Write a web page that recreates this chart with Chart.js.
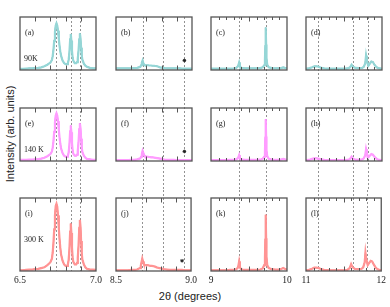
<!DOCTYPE html>
<html>
<head>
<meta charset="utf-8">
<script src="https://cdn.jsdelivr.net/npm/chart.js@4.4.1/dist/chart.umd.min.js"></script>
<style>
  body { margin: 0; background: #fff; }
  #wrap { position: relative; width: 390px; height: 307px; overflow: hidden; }
  #wrap canvas { position: absolute; }
  .ytitle { position: absolute; left: 10px; top: 134px; transform: translate(-50%, -50%) rotate(-90deg);
            font: 11px "Liberation Sans", Arial, sans-serif; white-space: nowrap; color: #222; }
  .xtitle { position: absolute; left: 190px; top: 296px; transform: translate(-50%, -50%);
            font: 11px "Liberation Sans", Arial, sans-serif; white-space: nowrap; color: #222; }
</style>
</head>
<body>
<div id="wrap">
  <div class="ytitle">Intensity (arb. units)</div>
  <div class="xtitle">2θ (degrees)</div>
</div>
<script>
// 2theta sampling per column
var theta1 = [6.50,6.52,6.54,6.56,6.58,6.60,6.62,6.64,6.66,6.68,6.69,6.70,6.71,6.715,6.72,6.725,6.73,6.735,6.74,6.745,6.75,6.755,6.76,6.765,6.77,6.78,6.79,6.80,6.81,6.815,6.82,6.825,6.83,6.834,6.838,6.842,6.846,6.85,6.86,6.87,6.875,6.88,6.885,6.89,6.894,6.898,6.902,6.906,6.91,6.92,6.93,6.94,6.96,6.98,7.00];
var theta2 = [8.50,8.52,8.54,8.56,8.58,8.60,8.62,8.64,8.65,8.66,8.665,8.67,8.675,8.68,8.685,8.69,8.70,8.71,8.72,8.73,8.74,8.75,8.76,8.77,8.78,8.79,8.80,8.81,8.82,8.84,8.86,8.88,8.90,8.92,8.94,8.96,8.98,9.00];
var theta3 = [9.00,9.05,9.10,9.15,9.20,9.25,9.30,9.33,9.35,9.36,9.37,9.38,9.39,9.41,9.45,9.50,9.55,9.60,9.65,9.68,9.70,9.71,9.715,9.72,9.725,9.73,9.74,9.76,9.80,9.85,9.90,9.93,9.95,9.97,10.00];
var theta4 = [11.00,11.04,11.08,11.11,11.14,11.17,11.20,11.24,11.30,11.40,11.50,11.55,11.58,11.60,11.62,11.65,11.70,11.74,11.76,11.78,11.79,11.80,11.82,11.84,11.86,11.88,11.90,11.93,11.96,12.00];

// 90 K
var i90a = [2,2,2.5,3,3,3.5,4,5,7,10,12,14,19,26,38,55,72,84,88,84,74,60,46,35,27,18,13,11,11,13,19,33,58,68,55,36,24,18,13,13,15,21,36,58,69,60,42,28,20,12,8,6,4,3,3];
var i90b = [3,3,3,3,3,3,3.5,4,5,6,9,14,18,13,10,9,9,9,8.5,8.5,8,8,7.5,7,6,5,4.5,4,3.5,3,3,3,3,3,2.5,2.5,2.5,2.5];
var i90c = [2.5,2.5,2.5,2.5,2.5,2.5,3,4,6,9,14,8,5,3.5,3,3,3,3,3.5,5,9,20,45,80,48,22,10,5,3.5,3,3,4,5,4,3];
var i90d = [2.5,3,5,7,7,6,4,3,2.5,2.5,2.5,3,5,10,6,4,3.5,4,6,13,27,18,8,12,16,15,10,5,3,2.5];
// 140 K
var i140e = [2,2,2,2.5,2.5,3,3.5,4.5,6,9,11,13,18,25,37,55,73,86,90,86,75,60,45,33,24,15,10,8,8,10,16,30,56,67,54,34,21,14,10,10,12,19,35,60,71,62,42,26,17,10,6,4,3,2,2];
var i140f = [1.5,1.5,1.5,1.5,1.5,2,2,3,4,5,8,13,19,15,11,9,8.5,8,7.5,7,7,6.5,6,5.5,5,4.5,4,3,2.5,2,2,2,1.5,1.5,1.5,1.5,1.5,1.5];
var i140g = [1.5,1.5,1.5,1.5,1.5,2,2,3,5,7,11,6,3.5,2.5,2,2,2,2,2.5,4,8,18,44,79,46,20,9,4,2.5,2,2,3,4,3,2];
var i140h = [1.5,2,4,5,5,4,3,2,1.5,1.5,1.5,2,4,8,4,2.5,2,3,5,11,22,15,7,10,13,12,8,4,2,1.5];
// 300 K
var i300i = [1,1,1.5,2,2,2.5,3,4,5,8,10,12,17,25,38,57,76,89,92,88,76,60,44,32,23,14,9,7,7,9,15,29,54,65,52,32,19,13,9,9,11,18,34,59,70,61,41,25,16,9,5,3,2,2,1.5];
var i300j = [1,1,1,1,1,1.5,1.5,2,3,4,7,12,17,13,10,8.5,8,8,7.5,7,7,6.5,6,5,4.5,4,3.5,3,2.5,2,1.5,1.5,1.5,1.5,1.5,1,1,1];
var i300k = [1,1,1,1,1,1.5,1.5,2.5,4,7,13,6,3,2,1.5,1.5,1.5,1.5,2,3.5,8,18,43,77,45,19,8,4,2.5,2,2,3,4,3,2];
var i300l = [1,1.5,3,4.5,4.5,4,2.5,1.5,1,1,1,1.5,4,9.5,5,3,2.5,3,5,12,25,17,8,11,14,13,9,4,2,1];

// asterisk markers in the second column (one per row)
var starX = [8.95, 8.95, 8.94];
var starY = [18, 18, 14];

// reference lines per column
var guides1 = [6.737, 6.833, 6.893];
var guides2 = [8.676, 8.81, 8.95];
var guides3 = [9.37, 9.72];
var guides4 = [11.16, 11.62, 11.81];

var xRanges = [[6.5, 7.0], [8.5, 9.0], [9, 10], [11, 12]];
var tickLabels = [['6.5', '7.0'], ['8.5', '9.0'], ['9', '10'], ['11', '12']];
var panelLetters = [['(a)', '(b)', '(c)', '(d)'], ['(e)', '(f)', '(g)', '(h)'], ['(i)', '(j)', '(k)', '(l)']];
var tempLabels = ['90K', '140 K', '300 K'];

var thetas = [theta1, theta2, theta3, theta4];
var guides = [guides1, guides2, guides3, guides4];
var rowsData = [[i90a, i90b, i90c, i90d], [i140e, i140f, i140g, i140h], [i300i, i300j, i300k, i300l]];

// layout
var cols = [
  { left: 0, w: 106, pl: 20, pr: 10 },
  { left: 106, w: 95, pl: 10, pr: 9 },
  { left: 201, w: 95, pl: 10, pr: 9 },
  { left: 296, w: 94, pl: 10, pr: 8 }
];
var rows = [
  { top: 0, h: 99, pt: 17, pb: 9 },
  { top: 99, h: 91, pt: 9, pb: 9 },
  { top: 190, h: 117, pt: 8, pb: 16 }
];
var colors = [
  { dark: '#23878a', light: '#95d6d6' },
  { dark: '#ee10ee', light: '#ff9cff' },
  { dark: '#f02020', light: '#ff9494' }
];

var panelDeco = {
  id: 'panelDeco',
  beforeDatasetsDraw: function (chart, args, o) {
    var ctx = chart.ctx, a = chart.chartArea, xs = chart.scales.x;
    ctx.save();
    ctx.strokeStyle = '#777';
    ctx.lineWidth = 0.8;
    ctx.setLineDash([2, 2]);
    o.guides.forEach(function (g) {
      var px = Math.round(xs.getPixelForValue(g)) + 0.5;
      ctx.beginPath();
      ctx.moveTo(px, o.row === 0 ? a.top : 0);
      ctx.lineTo(px, o.row === 2 ? a.bottom : chart.height);
      ctx.stroke();
    });
    ctx.restore();
  },
  afterDatasetsDraw: function (chart, args, o) {
    var ctx = chart.ctx, a = chart.chartArea, xs = chart.scales.x;
    ctx.save();
    ctx.strokeStyle = '#555';
    ctx.lineWidth = 1.3;
    ctx.strokeRect(a.left, a.top, a.right - a.left, a.bottom - a.top);
    // inward ticks top and bottom, every 0.1
    var n = Math.round((xs.max - xs.min) / 0.1);
    ctx.lineWidth = 1;
    for (var k = 1; k < n; k++) {
      var px = Math.round(xs.getPixelForValue(xs.min + k * 0.1)) + 0.5;
      var len = (n > 5 && k % 5 !== 0) ? 3 : 4.5;
      ctx.beginPath();
      ctx.moveTo(px, a.top); ctx.lineTo(px, a.top + len);
      ctx.moveTo(px, a.bottom); ctx.lineTo(px, a.bottom - len);
      ctx.stroke();
    }
    ctx.fillStyle = '#222';
    ctx.font = '8px "Liberation Serif", "Times New Roman", serif';
    ctx.textBaseline = 'middle';
    ctx.fillText(o.letter, a.left + 5, a.top + 16);
    if (o.temp) ctx.fillText(o.temp, a.left + 4, a.top + 42);
    ctx.restore();
  }
};

var wrap = document.getElementById('wrap');
rows.forEach(function (r, ri) {
  cols.forEach(function (c, ci) {
    var cv = document.createElement('canvas');
    cv.width = c.w; cv.height = r.h;
    cv.style.left = c.left + 'px'; cv.style.top = r.top + 'px';
    cv.style.width = c.w + 'px'; cv.style.height = r.h + 'px';
    wrap.appendChild(cv);

    var xs = thetas[ci], ys = rowsData[ri][ci];
    var pts = xs.map(function (x, i) { return { x: x, y: ys[i] }; });
    var datasets = [
      { data: pts, borderColor: colors[ri].light, borderWidth: 2.2, pointRadius: 0, tension: 0 },
      { data: pts, borderColor: colors[ri].dark, borderWidth: 1.1, pointRadius: 0, tension: 0 }
    ];
    if (ci === 1) {
      datasets.push({ data: [{ x: starX[ri], y: starY[ri] }], showLine: false, pointStyle: 'star',
        pointRadius: 1.8, borderColor: '#222', borderWidth: 1, backgroundColor: '#222' });
    }

    new Chart(cv.getContext('2d'), {
      type: 'line',
      data: { datasets: datasets },
      plugins: [panelDeco],
      options: {
        responsive: false,
        animation: false,
        devicePixelRatio: 1,
        layout: { padding: { left: c.pl, right: c.pr, top: r.pt, bottom: r.pb } },
        plugins: {
          legend: { display: false },
          tooltip: { enabled: false },
          panelDeco: { guides: guides[ci], row: ri, letter: panelLetters[ri][ci], temp: ci === 0 ? tempLabels[ri] : '' }
        },
        scales: {
          x: {
            type: 'linear', min: xRanges[ci][0], max: xRanges[ci][1],
            display: ri === 2,
            grid: { display: false, drawTicks: false },
            border: { display: false },
            afterFit: function (s) { s.height = 20; },
            ticks: {
              stepSize: xRanges[ci][1] - xRanges[ci][0], autoSkip: false, maxRotation: 0, padding: 4,
              color: '#222', font: { family: '"Liberation Serif", "Times New Roman", serif', size: 9.5 },
              callback: function (v, i) { return tickLabels[ci][i]; }
            }
          },
          y: { display: false, min: 0, max: 100 }
        }
      }
    });
  });
});
</script>
</body>
</html>
